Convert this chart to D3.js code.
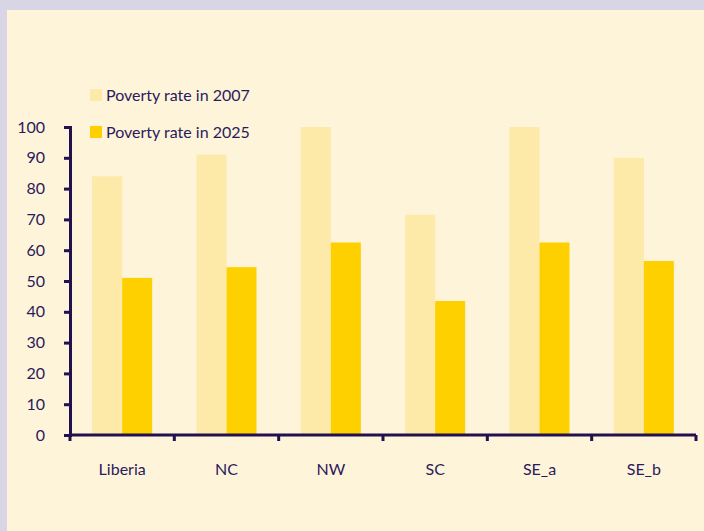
<!DOCTYPE html>
<meta charset="utf-8">
<style>
    body { margin: 0; background: #d8d5e5; }
    text { font-family: Lato, "Open Sans", sans-serif; fill: #2b1a5c; }
    .axis path, .axis line { stroke: #22104f; }
</style>
<svg width="704" height="531"></svg>
<script src="https://cdn.jsdelivr.net/npm/d3@7"></script>
<script>

    // chart data
    var categories = ["Liberia", "NC", "NW", "SC", "SE_a", "SE_b"];
    var seriesNames = ["Poverty rate in 2007", "Poverty rate in 2025"];
    var rate2007 = [84, 91, 100, 71.5, 100, 90];
    var rate2025 = [51, 54.5, 62.5, 43.5, 62.5, 56.5];
    var yTicks = [0, 10, 20, 30, 40, 50, 60, 70, 80, 90, 100];
    var colors = ["#fde9a8", "#ffd000"];

    (function () {
        var svg = d3.select("svg");

        // lavender frame with beige panel
        svg.append("rect").attr("width", 704).attr("height", 531).attr("fill", "#d8d5e5");
        svg.append("rect").attr("x", 7).attr("y", 10).attr("width", 697).attr("height", 521).attr("fill", "#fef4d9");

        var plotLeft = 70, plotRight = 696, plotTop = 127, plotBottom = 435;

        var x = d3.scaleBand().domain(categories).range([plotLeft, plotRight]);
        var y = d3.scaleLinear().domain([0, 100]).range([plotBottom, plotTop]);
        var barW = 30;

        [rate2007, rate2025].forEach(function (vals, s) {
            svg.append("g").selectAll("rect")
                .data(vals)
                .enter().append("rect")
                .attr("x", function (d, i) { return x(categories[i]) + x.bandwidth() / 2 - barW + s * barW; })
                .attr("y", function (d) { return y(d); })
                .attr("width", barW)
                .attr("height", function (d) { return plotBottom - y(d); })
                .attr("fill", colors[s]);
        });

        // y axis
        var yAxis = svg.append("g")
            .attr("class", "axis")
            .attr("transform", "translate(" + plotLeft + ",0)")
            .call(d3.axisLeft(y).tickValues(yTicks).tickSize(6).tickPadding(19));
        yAxis.select(".domain").attr("stroke-width", 3);
        yAxis.selectAll(".tick line").attr("stroke-width", 3);
        yAxis.selectAll("text").style("font-size", "16px").attr("fill", "#2b1a5c");

        // x axis, ticks at the band edges
        var xAxis = svg.append("g")
            .attr("class", "axis")
            .attr("transform", "translate(0," + plotBottom + ")");
        xAxis.append("line")
            .attr("x1", plotLeft).attr("x2", plotRight)
            .attr("stroke-width", 3);
        xAxis.selectAll(".edge")
            .data(categories.concat(["end"]))
            .enter().append("line")
            .attr("class", "edge")
            .attr("x1", function (d, i) { return plotLeft + i * x.bandwidth(); })
            .attr("x2", function (d, i) { return plotLeft + i * x.bandwidth(); })
            .attr("y1", 0).attr("y2", 6)
            .attr("stroke-width", 3);
        xAxis.selectAll("text")
            .data(categories)
            .enter().append("text")
            .attr("x", function (d) { return x(d) + x.bandwidth() / 2; })
            .attr("y", 40)
            .attr("text-anchor", "middle")
            .style("font-size", "16px")
            .text(function (d) { return d; });

        // legend
        var legend = svg.append("g").selectAll("g")
            .data(seriesNames)
            .enter().append("g")
            .attr("transform", function (d, i) { return "translate(90," + (89 + i * 37) + ")"; });
        legend.append("rect")
            .attr("width", 12).attr("height", 12)
            .attr("fill", function (d, i) { return colors[i]; });
        legend.append("text")
            .attr("x", 16).attr("y", 12)
            .style("font-size", "16px")
            .text(function (d) { return d; });
    })();

</script>
